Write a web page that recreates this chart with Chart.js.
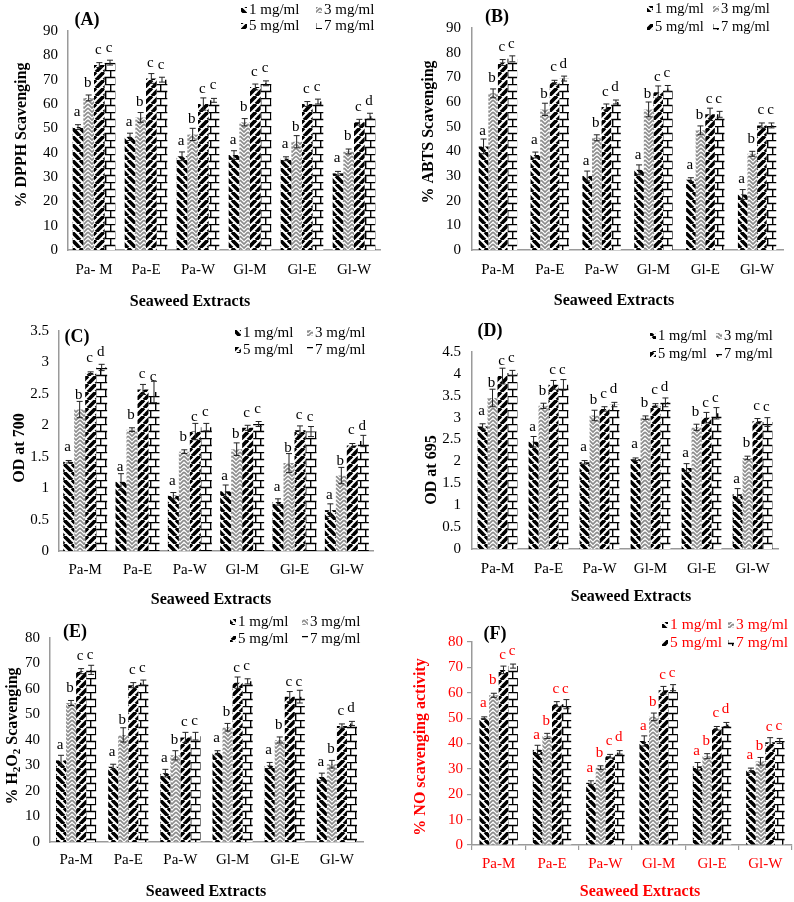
<!DOCTYPE html>
<html>
<head>
<meta charset="utf-8">
<script src="https://cdn.jsdelivr.net/npm/chart.js@4.4.1/dist/chart.umd.min.js"></script>
<style>
  html, body { margin: 0; padding: 0; background: #fff; }
  body { position: relative; width: 794px; height: 902px; overflow: hidden; }
  canvas { position: absolute; }
</style>
</head>
<body>
<canvas id="cA" width="397" height="312" style="left:0;top:0"></canvas>
<canvas id="cB" width="397" height="312" style="left:397px;top:0"></canvas>
<canvas id="cC" width="397" height="296" style="left:0;top:312px"></canvas>
<canvas id="cD" width="397" height="296" style="left:397px;top:312px"></canvas>
<canvas id="cE" width="397" height="294" style="left:0;top:608px"></canvas>
<canvas id="cF" width="397" height="294" style="left:397px;top:608px"></canvas>
<script>
var extracts = ['Pa-M', 'Pa-E', 'Pa-W', 'Gl-M', 'Gl-E', 'Gl-W'];
var extractsA = ['Pa- M', 'Pa-E', 'Pa-W', 'Gl-M', 'Gl-E', 'Gl-W'];
var doses = ['1 mg/ml', '3 mg/ml', '5 mg/ml', '7 mg/ml'];

// (A) DPPH, one row per dose
var dpph = [
  [50.5, 46.5, 38.5, 39, 37.5, 31.5],
  [62.5, 54.5, 47.5, 52.5, 44.5, 40.5],
  [76, 70.5, 60, 67, 60, 52.5],
  [77, 70, 61.5, 68.5, 61, 55]
];
var dpphSd = [
  [1, 1.5, 1.8, 1.8, 0.8, 0.8],
  [1.2, 2, 2.5, 1.5, 2.5, 1],
  [1, 2, 2.5, 1.2, 1, 1.2],
  [1, 1, 0.8, 1, 1, 1.2]
];
var dpphLetters = ['abcc', 'abcc', 'abcc', 'abcc', 'abcc', 'abcd'];

// (B) ABTS
var abts = [
  [42, 38.5, 30, 32.5, 28.5, 22.5],
  [63.5, 57, 45.5, 57, 48.5, 39],
  [76, 68, 58, 64, 55, 50.5],
  [77.5, 69.5, 60, 65.5, 55, 50.5]
];
var abtsSd = [
  [3, 1.2, 2, 2, 0.8, 2],
  [1.8, 2.5, 1.2, 3, 1.8, 1],
  [1.2, 0.8, 1.2, 2.5, 2.5, 1],
  [1.2, 1, 0.8, 1.2, 1.2, 1]
];
var abtsLetters = ['abcc', 'abcd', 'abcd', 'abcc', 'abcc', 'abcc'];

// (C) OD at 700
var od700 = [
  [1.42, 1.1, 0.88, 0.95, 0.78, 0.65],
  [2.25, 1.93, 1.58, 1.62, 1.4, 1.2],
  [2.83, 2.57, 1.9, 1.96, 1.92, 1.68],
  [2.92, 2.53, 1.97, 2.02, 1.9, 1.75]
];
var od700Sd = [
  [0.02, 0.13, 0.05, 0.1, 0.05, 0.1],
  [0.13, 0.03, 0.03, 0.1, 0.15, 0.13],
  [0.02, 0.08, 0.13, 0.04, 0.07, 0.03],
  [0.05, 0.17, 0.06, 0.04, 0.08, 0.09]
];
var od700Letters = ['abcd', 'abcc', 'abcc', 'abcc', 'abcc', 'abcd'];

// (D) OD at 695
var od695 = [
  [2.8, 2.45, 1.98, 2.05, 1.85, 1.25],
  [3.45, 3.27, 3.05, 3.0, 2.78, 2.08],
  [3.95, 3.75, 3.2, 3.28, 3.0, 2.92],
  [4.02, 3.75, 3.3, 3.35, 3.1, 2.9]
];
var od695Sd = [
  [0.06, 0.12, 0.04, 0.03, 0.1, 0.13],
  [0.2, 0.06, 0.12, 0.04, 0.07, 0.04],
  [0.18, 0.1, 0.05, 0.04, 0.12, 0.06],
  [0.06, 0.12, 0.05, 0.1, 0.13, 0.1]
];
var od695Letters = ['abcc', 'abcc', 'abcd', 'abcd', 'abcc', 'abcc'];

// (E) H2O2
var h2o2 = [
  [32, 29.5, 27, 35, 30, 25.5],
  [54.5, 42, 34, 45, 40, 30.5],
  [67, 61.5, 41, 62.5, 57, 45.5],
  [67.5, 62.5, 41.5, 63, 57, 46.5]
];
var h2o2Sd = [
  [2, 1, 1.5, 0.8, 1.2, 1.5],
  [1, 2.8, 1.8, 1.5, 1.2, 1.5],
  [1, 1, 2, 2.2, 2, 0.8],
  [1.8, 1, 1.5, 1, 2.5, 0.8]
];
var h2o2Letters = ['abcc', 'abcc', 'abcc', 'abcc', 'abcc', 'abcd'];

// (F) NO
var no = [
  [50, 37.5, 24.5, 41, 31, 29.5],
  [59, 43, 30.5, 50.5, 35, 33],
  [69, 55.5, 35, 61, 46, 40.5],
  [70.5, 55.5, 36.5, 62, 47.5, 41]
];
var noSd = [
  [0.5, 1.8, 0.8, 2, 1.5, 0.8],
  [0.8, 1, 0.7, 1.5, 1, 1.5],
  [1.5, 1, 0.7, 1.5, 0.7, 1.8],
  [0.8, 1.8, 0.7, 1.2, 0.8, 1]
];
var noLetters = ['abcc', 'abcc', 'abcd', 'abcc', 'abcd', 'abcc'];

var SERIF = '"Liberation Serif", "Times New Roman", serif';
Chart.defaults.font.family = SERIF;
Chart.defaults.color = '#000';
Chart.defaults.animation = false;

function makePattern(w, h, draw) {
  var c = document.createElement('canvas');
  c.width = w; c.height = h;
  var g = c.getContext('2d');
  g.fillStyle = '#fff';
  g.fillRect(0, 0, w, h);
  draw(g);
  return g.createPattern(c, 'repeat');
}

var patterns = [
  // thick "\" stripes
  makePattern(8, 8, function (g) {
    g.strokeStyle = '#000'; g.lineWidth = 3.7;
    [-8, 0, 8].forEach(function (o) { g.beginPath(); g.moveTo(o, 0); g.lineTo(o + 8, 8); g.stroke(); });
  }),
  // grey zigzag
  makePattern(8, 8, function (g) {
    g.strokeStyle = '#8c8c8c'; g.lineWidth = 1.7;
    [-4, 0, 4, 8].forEach(function (y0) {
      g.beginPath(); g.moveTo(0, y0); g.lineTo(4, y0 + 4); g.lineTo(8, y0); g.stroke();
    });
  }),
  // thick "/" stripes
  makePattern(8, 8, function (g) {
    g.strokeStyle = '#000'; g.lineWidth = 3.7;
    [-8, 0, 8].forEach(function (o) { g.beginPath(); g.moveTo(o, 8); g.lineTo(o + 8, 0); g.stroke(); });
  }),
  // brick
  makePattern(10, 14, function (g) {
    g.strokeStyle = '#000'; g.lineWidth = 1.4;
    g.beginPath();
    g.moveTo(0, 0.5); g.lineTo(10, 0.5);
    g.moveTo(0, 7.5); g.lineTo(10, 7.5);
    g.moveTo(0.7, 0); g.lineTo(0.7, 7.5);
    g.moveTo(5.7, 7.5); g.lineTo(5.7, 14);
    g.stroke();
  })
];

var panels = [
  { id: 'cA', page: [0, 0], area: [68, 31, 380, 250], yMax: 90, step: 10,
    values: dpph, sd: dpphSd, letters: dpphLetters, cats: extractsA, catPct: 0.82, xPad: 11, yPad: 10,
    label: '(A)', labelPos: [87, 20], legend: [241, 316, 10, 26], legendSize: 15,
    yTitle: [['% DPPH Scavenging', false]], yTitlePos: [22, 135], xTitlePos: [190, 302], color: '#000', ticks: false },
  { id: 'cB', page: [397, 0], area: [472, 28, 783, 250], yMax: 90, step: 10,
    values: abts, sd: abtsSd, letters: abtsLetters, cats: extracts, catPct: 0.74, xPad: 11, yPad: 11,
    label: '(B)', labelPos: [497, 17], legend: [647, 713, 9, 27], legendSize: 14.5,
    yTitle: [['% ABTS Scavenging', false]], yTitlePos: [429, 132], xTitlePos: [614, 301], color: '#000', ticks: false },
  { id: 'cC', page: [0, 312], area: [59, 325, 373, 551], yMax: 3.5, step: 0.5,
    values: od700, sd: od700Sd, letters: od700Letters, cats: extracts, catPct: 0.84, xPad: 10, yPad: 10,
    label: '(C)', labelPos: [77, 337], legend: [235, 307, 333, 350], legendSize: 15,
    yTitle: [['OD at 700', false]], yTitlePos: [20, 448], xTitlePos: [211, 600], color: '#000', ticks: false },
  { id: 'cD', page: [397, 312], area: [472, 352, 778, 549], yMax: 4.5, step: 0.5,
    values: od695, sd: od695Sd, letters: od695Letters, cats: extracts, catPct: 0.78, xPad: 11, yPad: 11,
    label: '(D)', labelPos: [490, 331], legend: [650, 716, 336, 354], legendSize: 14.5,
    yTitle: [['OD at 695', false]], yTitlePos: [432, 470], xTitlePos: [631, 597], color: '#000', ticks: false },
  { id: 'cE', page: [0, 608], area: [50, 638, 363, 842], yMax: 80, step: 10,
    values: h2o2, sd: h2o2Sd, letters: h2o2Letters, cats: extracts, catPct: 0.77, xPad: 9, yPad: 10,
    label: '(E)', labelPos: [75, 632], legend: [230, 302, 622, 639], legendSize: 15,
    yTitle: [['% H', false], ['2', true], ['O', false], ['2', true], [' Scavenging', false]],
    yTitlePos: [13, 736], xTitlePos: [206, 892], color: '#000', ticks: false },
  { id: 'cF', page: [397, 608], area: [472, 642, 792, 845], yMax: 80, step: 10,
    values: no, sd: noSd, letters: noLetters, cats: extracts, catPct: 0.72, xPad: 5, yPad: 4,
    label: '(F)', labelPos: [495, 634], legend: [662, 728, 625, 643], legendSize: 15.5,
    yTitle: [['% NO scavenging activity', false]], yTitlePos: [421, 747], xTitlePos: [640, 892], color: '#ff0000', ticks: true }
];

function decorPlugin(p) {
  var ox = p.page[0], oy = p.page[1];
  return {
    id: 'decor' + p.id,
    afterDatasetsDraw: function (chart) {
      var ctx = chart.ctx, y = chart.scales.y;
      ctx.save();
      chart.data.datasets.forEach(function (ds, di) {
        chart.getDatasetMeta(di).data.forEach(function (bar, i) {
          var v = ds.data[i], e = ds.sd[i];
          var yHi = y.getPixelForValue(v + e), yLo = y.getPixelForValue(v - e);
          ctx.strokeStyle = '#222'; ctx.lineWidth = 1;
          ctx.beginPath();
          ctx.moveTo(bar.x, yLo); ctx.lineTo(bar.x, yHi);
          ctx.moveTo(bar.x - 3, yHi); ctx.lineTo(bar.x + 3, yHi);
          ctx.moveTo(bar.x - 3, yLo); ctx.lineTo(bar.x + 3, yLo);
          ctx.stroke();
          ctx.fillStyle = p.color;
          ctx.font = '15px ' + SERIF;
          ctx.textAlign = 'center'; ctx.textBaseline = 'middle';
          ctx.fillText(p.letters[i].charAt(di), bar.x - 1, bar.y - 15);
        });
      });
      ctx.restore();
    },
    afterDraw: function (chart) {
      var ctx = chart.ctx;
      ctx.save();
      ctx.textBaseline = 'middle';

      // y axis title (rotated, with optional subscripts)
      var big = 'bold 16px ' + SERIF, small = 'bold 11px ' + SERIF, total = 0;
      p.yTitle.forEach(function (part) { ctx.font = part[1] ? small : big; total += ctx.measureText(part[0]).width; });
      ctx.save();
      ctx.translate(p.yTitlePos[0] - ox, p.yTitlePos[1] - oy);
      ctx.rotate(-Math.PI / 2);
      ctx.fillStyle = p.color; ctx.textAlign = 'left';
      var cx = -total / 2;
      p.yTitle.forEach(function (part) {
        ctx.font = part[1] ? small : big;
        ctx.fillText(part[0], cx, part[1] ? 4 : 0);
        cx += ctx.measureText(part[0]).width;
      });
      ctx.restore();

      // x axis title
      ctx.font = big; ctx.textAlign = 'center'; ctx.fillStyle = p.color;
      ctx.fillText('Seaweed Extracts', p.xTitlePos[0] - ox, p.xTitlePos[1] - oy);

      // panel label
      ctx.font = 'bold 18px ' + SERIF; ctx.fillStyle = '#000';
      ctx.fillText(p.label, p.labelPos[0] - ox, p.labelPos[1] - oy);

      // legend, two rows of two
      ctx.font = p.legendSize + 'px ' + SERIF; ctx.textAlign = 'left';
      doses.forEach(function (d, k) {
        var sx = (k % 2 ? p.legend[1] : p.legend[0]) - ox;
        var sy = (k < 2 ? p.legend[2] : p.legend[3]) - oy;
        ctx.fillStyle = patterns[k];
        ctx.fillRect(sx, sy - 3, 6, 6);
        ctx.fillStyle = p.color;
        ctx.fillText(d, sx + 8, sy);
      });
      ctx.restore();
    }
  };
}

panels.forEach(function (p) {
  var canvas = document.getElementById(p.id);
  var W = canvas.width, H = canvas.height;
  var left = p.area[0] - p.page[0], top = p.area[1] - p.page[1];
  var right = p.area[2] - p.page[0], bottom = p.area[3] - p.page[1];
  var axisLine = { color: '#9a9a9a', width: 1.5 };
  var gridOpt = p.ticks
    ? { display: true, drawOnChartArea: false, drawTicks: true, tickLength: 5, color: '#9a9a9a', lineWidth: 1.2 }
    : { display: false, drawTicks: false };

  new Chart(canvas, {
    type: 'bar',
    data: {
      labels: p.cats,
      datasets: doses.map(function (d, k) {
        return {
          label: d,
          data: p.values[k],
          sd: p.sd[k],
          backgroundColor: patterns[k],
          borderWidth: 0,
          categoryPercentage: p.catPct,
          barPercentage: 1
        };
      })
    },
    options: {
      responsive: false,
      layout: { padding: { left: 0, top: top, right: W - right, bottom: 0 } },
      plugins: { legend: { display: false }, tooltip: { enabled: false } },
      scales: {
        x: {
          grid: Object.assign({ offset: true }, gridOpt),
          border: axisLine,
          ticks: { color: p.color, font: { size: 15 }, padding: p.xPad, maxRotation: 0, autoSkip: false },
          afterFit: function (s) { s.height = H - bottom; }
        },
        y: {
          min: 0,
          max: p.yMax,
          grid: gridOpt,
          border: axisLine,
          ticks: {
            stepSize: p.step, color: p.color, font: { size: 15 }, padding: p.yPad,
            callback: function (v) { return String(Math.round(v * 10) / 10); }
          },
          afterFit: function (s) { s.width = left; }
        }
      }
    },
    plugins: [decorPlugin(p)]
  });
});
</script>
</body>
</html>
